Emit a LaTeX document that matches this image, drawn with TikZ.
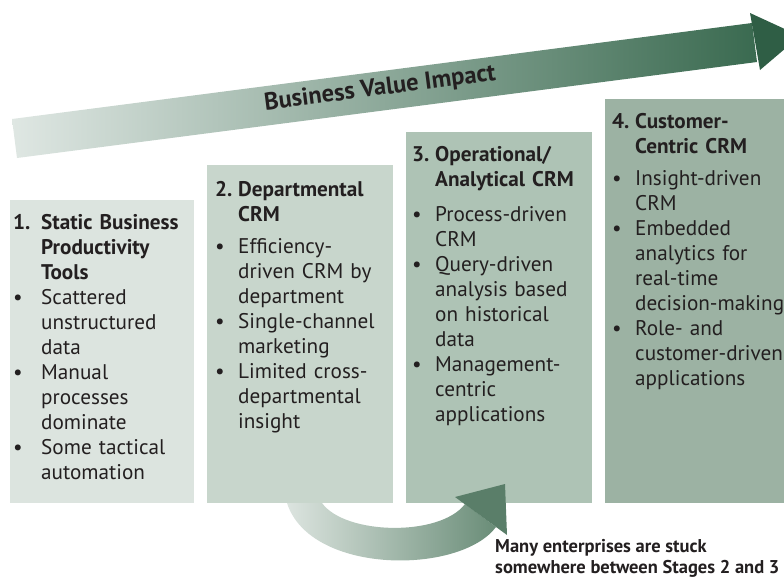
\documentclass[tikz,border=0pt]{standalone}
\usepackage{fontspec}
\setmainfont{PT Sans}
\usetikzlibrary{positioning}

\definecolor{stageone}{HTML}{DCE4DF}
\definecolor{stagetwo}{HTML}{C8D6CC}
\definecolor{stagethree}{HTML}{AEC3B5}
\definecolor{stagefour}{HTML}{9CB2A3}
\definecolor{inkdark}{HTML}{231F20}
\definecolor{bandlight}{HTML}{DFE7E3}
\definecolor{bandmid}{HTML}{ABC1B3}
\definecolor{banddark}{HTML}{3A6A50}
\definecolor{headdark}{HTML}{2F5E45}
\definecolor{curvelight}{HTML}{DCE4DF}
\definecolor{curvedark}{HTML}{6A8D78}
\definecolor{curvehead}{HTML}{5A7E69}

% hanging indent for stage headings and bullet points
\newlength{\hangw}
\setlength{\hangw}{23pt}
\newcommand{\stagehead}[3][7pt]{\noindent\hangindent=\hangw\hangafter=1
  \makebox[\hangw][l]{\bfseries #2}{\bfseries #3}\par\vspace{#1}}
\newcommand{\stageitem}[1]{\noindent\hangindent=\hangw\hangafter=1
  \makebox[\hangw][l]{\textbullet}#1\par}

\begin{document}
\begin{tikzpicture}[x=1pt, y=-1pt,
    stagebox/.style={rectangle, draw=none, anchor=north west, inner sep=0pt},
    stagetext/.style={anchor=north west, inner sep=0pt, text width=210pt, align=left,
      text=inkdark, font=\fontsize{21.2}{25}\selectfont},
    note/.style={anchor=north west, inner sep=0pt, align=left, text=inkdark,
      font=\bfseries\fontsize{18.5}{21}\selectfont}
  ]
  \clip (0,0) rectangle (784,582);

  % rising value arrow
  \shade[left color=bandlight, middle color=bandmid, right color=banddark]
    (12,119) -- (752,23) -- (757,62) -- (17,158) -- cycle;
  \fill[headdark] (750,13) -- (800,36) -- (760,70) -- cycle;
  \node[rotate=7.4, text=inkdark, font=\bfseries\fontsize{24.5}{28}\selectfont]
    (impact) at (380,89) {Business Value Impact};

  % the four stages
  \node[stagebox, fill=stageone, minimum width=184pt, minimum height=303pt] (s1) at (10,200) {};
  \node[stagebox, fill=stagetwo, minimum width=186pt, minimum height=338pt] (s2) at (207,165) {};
  \node[stagebox, fill=stagethree, minimum width=186pt, minimum height=371pt] (s3) at (406,132) {};
  \node[stagebox, fill=stagefour, minimum width=190pt, minimum height=404pt] (s4) at (605,99) {};

  \node[stagetext] (t1) at ([shift={(3,14)}]s1.north west) {%
    \setlength{\hangw}{28pt}%
    \stagehead[0pt]{1.}{Static Business\newline Productivity\newline Tools}
    \stageitem{Scattered\newline unstructured\newline data}
    \stageitem{Manual\newline processes\newline dominate}
    \stageitem{Some tactical\newline automation}};
  \node[stagetext] (t2) at ([shift={(8,16)}]s2.north west) {%
    \stagehead{2.}{Departmental\newline CRM}
    \stageitem{Efficiency-\newline driven CRM by\newline department}
    \stageitem{Single-channel\newline marketing}
    \stageitem{Limited cross-\newline departmental\newline insight}};
  \node[stagetext] (t3) at ([shift={(6,14)}]s3.north west) {%
    \stagehead[10pt]{3.}{Operational/\newline Analytical CRM}
    \stageitem{Process-driven\newline CRM}
    \stageitem{Query-driven\newline analysis based\newline on historical\newline data}
    \stageitem{Management-\newline centric\newline applications}};
  \node[stagetext] (t4) at ([shift={(7,14)}]s4.north west) {%
    \stagehead{4.}{Customer-\newline Centric CRM}
    \stageitem{Insight-driven\newline CRM}
    \stageitem{Embedded\newline analytics for\newline real-time\newline decision-making}
    \stageitem{Role- and\newline customer-driven\newline applications}};

  % stuck between stage 2 and 3
  \shade[left color=curvelight, right color=curvedark]
    (287,503) .. controls (310,575) and (460,575) .. (496,527)
    -- (465,504) .. controls (440,537) and (345,535) .. (322,503) -- cycle;
  \fill[curvehead] (455,497) -- (505,484) -- (507,535) -- cycle;
  \node[note] (stuck) at (495,539) {Many enterprises are stuck\\somewhere between Stages 2 and 3};
\end{tikzpicture}
\end{document}
